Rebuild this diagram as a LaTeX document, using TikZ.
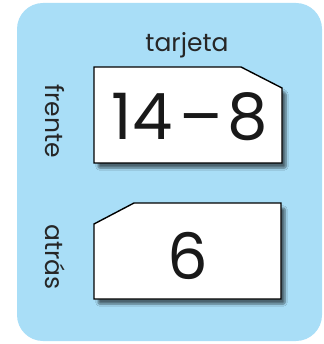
\documentclass[tikz,border=0pt]{standalone}
\usepackage{fontspec}
\setmainfont{Poppins}
\usetikzlibrary{shadows.blur}
\definecolor{bgblue}{HTML}{A9DEF7}
\tikzset{
  card/.style={draw=black, line width=1.4pt, fill=white, line join=miter,
    blur shadow={shadow xshift=4pt, shadow yshift=-5pt, shadow blur steps=6, shadow blur extra rounding=1.5pt, shadow opacity=55}},
  labeltext/.style={font=\fontsize{25}{28}\selectfont, text=black!85, inner sep=0pt},
  sidelabel/.style={labeltext, rotate=-90},
  bignum/.style={font=\fontsize{64}{70}\selectfont, text=black!90, inner sep=0pt}
}
\begin{document}
\begin{tikzpicture}[x=1pt,y=-1pt]
\useasboundingbox (0,0) rectangle (323,344);
\fill[bgblue, rounded corners=26pt] (17,3) rectangle (322,341);
% front card
\draw[card] (94,67) -- (241,67) -- (282,88) -- (282,163) -- (94,163) -- cycle;
% back card
\draw[card] (134,203) -- (281,203) -- (281,299) -- (94,299) -- (94,224) -- cycle;
\node[labeltext] (title) at (187,45) {tarjeta};
\node[sidelabel] (front) at (55,121) {frente};
\node[sidelabel] (back) at (55,257) {atrás};
\node[bignum] (expr) at (190,117) {14\hspace{7pt}–\hspace{5pt}8};
\node[bignum] (ans) at (188,256) {6};
\end{tikzpicture}
\end{document}
